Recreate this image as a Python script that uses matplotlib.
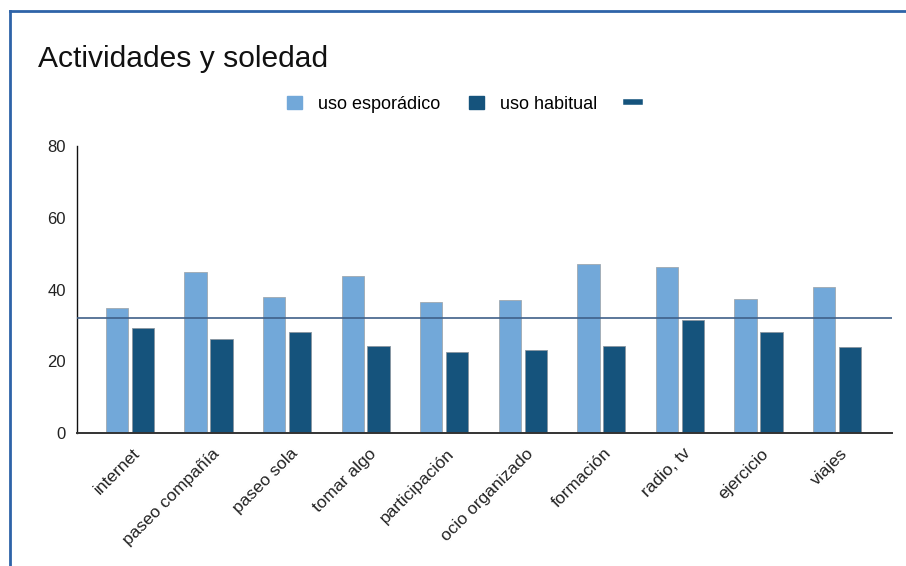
import numpy as np
import matplotlib
matplotlib.use("Agg")
import matplotlib.pyplot as plt
import matplotlib.transforms as mtransforms
from matplotlib.lines import Line2D
from matplotlib.patches import Rectangle

plt.rcParams['font.family'] = ['Liberation Sans', 'DejaVu Sans']

categorias = ['internet', 'paseo compañía', 'paseo sola', 'tomar algo', 'participación',
              'ocio organizado', 'formación', 'radio, tv', 'ejercicio', 'viajes']
uso_esporadico = [34.8, 44.9, 37.9, 43.8, 36.6, 37.0, 47.0, 46.4, 37.3, 40.8]
uso_habitual = [29.2, 26.2, 28.2, 24.2, 22.6, 23.2, 24.2, 31.4, 28.2, 23.9]
referencia = 32
yticks = [0, 20, 40, 60, 80]

c_light = '#72a8d9'
c_dark = '#15537c'
c_line = '#3f6089'

fig = plt.figure(figsize=(9.06, 5.66), dpi=100)
ax = fig.add_axes([0.085, 0.235, 0.8995, 0.507])

x = np.arange(len(categorias))
w = 0.285
ax.bar(x - 0.165, uso_esporadico, w, color=c_light, edgecolor='#a0a8b0', linewidth=0.6,
       label='uso esporádico', zorder=2)
ax.bar(x + 0.165, uso_habitual, w, color=c_dark, edgecolor='#8a96a0', linewidth=0.6,
       label='uso habitual', zorder=2)
ax.axhline(referencia, color=c_line, linewidth=1.2, zorder=3)

ax.set_xlim(-0.675, len(categorias) - 1 + 0.70)
ax.set_ylim(0, 80)
ax.set_yticks(yticks)
ax.tick_params(axis='y', length=0, pad=8, labelsize=12, labelcolor='#222222')
ax.tick_params(axis='x', length=0, pad=13, labelsize=12.5, labelcolor='#222222')
ax.set_xticks(x)
ax.set_xticklabels(categorias, rotation=45, ha='right', va='center', rotation_mode='anchor')
shift = mtransforms.ScaledTranslation(8 / 100, 0, fig.dpi_scale_trans)
for lab in ax.get_xticklabels():
    lab.set_transform(lab.get_transform() + shift)

for s in ['top', 'right']:
    ax.spines[s].set_visible(False)
ax.spines['left'].set_color('#111111')
ax.spines['left'].set_linewidth(1.0)
ax.spines['bottom'].set_color('#333333')
ax.spines['bottom'].set_linewidth(1.4)

fig.text(0.042, 0.895, 'Actividades y soledad', fontsize=21.6, color='#111111', va='center')

handles = [Rectangle((0, 0), 1, 1, color=c_light),
           Rectangle((0, 0), 1, 1, color=c_dark),
           Line2D([0], [0], color=c_dark, linewidth=4)]
fig.legend(handles, ['uso esporádico', 'uso habitual', ''], loc='center',
           bbox_to_anchor=(0.521, 0.816), ncol=3, frameon=False, fontsize=13,
           handlelength=0.8, handleheight=0.8, handletextpad=0.9, columnspacing=1.6)

# marco azul (borde superior e izquierdo)
fig.add_artist(Line2D([0.0105, 0.0105], [0, 1 - 11 / 566], transform=fig.transFigure,
                      color='#2e63a8', linewidth=2))
fig.add_artist(Line2D([0.0105, 1], [1 - 11 / 566, 1 - 11 / 566], transform=fig.transFigure,
                      color='#2e63a8', linewidth=2))

fig.savefig('out.png', dpi=100)
